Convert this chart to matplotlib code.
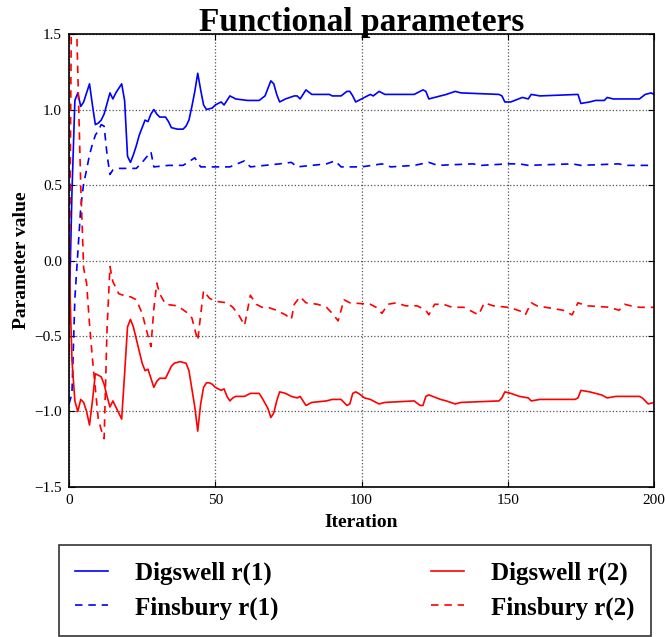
import matplotlib
matplotlib.use("Agg")
import matplotlib.pyplot as plt

# Polices : serif type Times
plt.rcParams['font.family'] = 'serif'
plt.rcParams['font.serif'] = ['Liberation Serif', 'DejaVu Serif']

# Données : (itération, valeur)
digswell_r1 = [
    (0, -0.40), (1, 0.45), (2, 1.06), (3, 1.11), (4, 1.02), (5, 1.05), (6, 1.11), (7, 1.17),
    (8, 1.03), (9, 0.90), (10, 0.91), (11, 0.93), (12, 0.97), (13, 1.04), (14, 1.11), (15, 1.07),
    (16, 1.11), (17, 1.14), (18, 1.17), (19, 1.06), (20, 0.69), (21, 0.65), (22, 0.70), (23, 0.76),
    (24, 0.83), (25, 0.88), (26, 0.93), (27, 0.92), (28, 0.97), (29, 1.00), (30, 0.97), (31, 0.95),
    (33, 0.95), (34, 0.92), (35, 0.88), (37, 0.87), (39, 0.87), (40, 0.89), (41, 0.93), (42, 1.02),
    (43, 1.12), (44, 1.24), (45, 1.13), (46, 1.03), (47, 1.00), (49, 1.01), (50, 1.03), (51, 1.04),
    (52, 1.05), (53, 1.03), (54, 1.06), (55, 1.09), (57, 1.07), (61, 1.06), (65, 1.06), (67, 1.09),
    (68, 1.14), (69, 1.19), (70, 1.17), (71, 1.10), (72, 1.05), (74, 1.07), (77, 1.09), (78, 1.09),
    (79, 1.07), (81, 1.13), (83, 1.10), (89, 1.10), (90, 1.09), (93, 1.09), (95, 1.12), (96, 1.12),
    (97, 1.09), (98, 1.05), (100, 1.07), (102, 1.09), (103, 1.10), (104, 1.09), (106, 1.12),
    (108, 1.10), (118, 1.10), (119, 1.11), (121, 1.13), (122, 1.12), (123, 1.07), (127, 1.09),
    (129, 1.10), (132, 1.12), (134, 1.11), (147, 1.10), (148, 1.09), (149, 1.05), (151, 1.05),
    (155, 1.08), (157, 1.07), (158, 1.10), (161, 1.09), (174, 1.10), (175, 1.04), (178, 1.05),
    (180, 1.06), (183, 1.06), (184, 1.08), (186, 1.07), (195, 1.07), (197, 1.10), (199, 1.11),
    (200, 1.10),
]

finsbury_r1 = [
    (0, -0.95), (1, -0.88), (2, -0.25), (3, 0.05), (4, 0.35), (5, 0.51), (6, 0.60), (7, 0.70),
    (8, 0.77), (9, 0.83), (10, 0.86), (11, 0.90), (12, 0.89), (13, 0.70), (14, 0.57), (15, 0.60),
    (17, 0.61), (20, 0.61), (23, 0.61), (25, 0.65), (28, 0.72), (29, 0.62), (34, 0.63), (39, 0.63),
    (43, 0.68), (45, 0.62), (55, 0.62), (60, 0.66), (62, 0.62), (72, 0.64), (76, 0.65), (78, 0.62),
    (88, 0.64), (91, 0.66), (93, 0.62), (100, 0.62), (107, 0.64), (110, 0.62), (118, 0.63),
    (123, 0.65), (126, 0.63), (138, 0.64), (141, 0.63), (150, 0.64), (154, 0.64), (157, 0.63),
    (172, 0.64), (175, 0.63), (188, 0.64), (190, 0.63), (200, 0.63),
]

digswell_r2 = [
    (0, 0.00), (1, -0.66), (2, -0.93), (3, -1.00), (4, -0.92), (5, -0.94), (6, -1.00), (7, -1.09),
    (8, -0.93), (9, -0.75), (10, -0.76), (11, -0.77), (12, -0.82), (13, -0.90), (14, -0.97),
    (15, -0.93), (16, -0.97), (17, -1.01), (18, -1.05), (19, -0.75), (20, -0.44), (21, -0.39),
    (22, -0.44), (23, -0.52), (24, -0.60), (25, -0.68), (26, -0.73), (27, -0.72), (28, -0.78),
    (29, -0.84), (30, -0.80), (31, -0.78), (33, -0.78), (34, -0.74), (35, -0.70), (36, -0.68),
    (38, -0.67), (40, -0.68), (41, -0.73), (42, -0.85), (43, -0.97), (44, -1.13), (45, -0.95),
    (46, -0.84), (47, -0.81), (48, -0.81), (49, -0.82), (50, -0.84), (51, -0.85), (52, -0.86),
    (53, -0.85), (54, -0.90), (55, -0.93), (56, -0.91), (57, -0.90), (60, -0.90), (62, -0.88),
    (65, -0.88), (66, -0.91), (68, -0.98), (69, -1.04), (70, -1.01), (71, -0.93), (72, -0.87),
    (74, -0.88), (76, -0.90), (78, -0.91), (79, -0.90), (81, -0.96), (83, -0.94), (88, -0.93),
    (90, -0.92), (93, -0.92), (95, -0.96), (96, -0.95), (97, -0.88), (98, -0.87), (99, -0.88),
    (101, -0.91), (103, -0.92), (106, -0.95), (108, -0.94), (118, -0.93), (120, -0.96),
    (121, -0.96), (122, -0.90), (123, -0.89), (127, -0.92), (129, -0.93), (132, -0.95),
    (134, -0.94), (147, -0.93), (148, -0.91), (149, -0.87), (151, -0.88), (154, -0.90),
    (157, -0.91), (158, -0.93), (161, -0.92), (173, -0.92), (174, -0.91), (175, -0.86),
    (178, -0.87), (180, -0.88), (182, -0.89), (184, -0.91), (187, -0.90), (195, -0.90),
    (196, -0.91), (198, -0.95), (200, -0.94),
]

finsbury_r2 = [
    (0, -0.60), (1, 2.20), (2, 2.00), (3, 1.25), (4, 0.50), (5, -0.05), (6, -0.15), (7, -0.42),
    (8, -0.65), (9, -0.85), (10, -1.05), (11, -1.12), (12, -1.18), (13, -0.45), (14, -0.04),
    (15, -0.14), (17, -0.22), (20, -0.24), (21, -0.24), (23, -0.26), (25, -0.35), (27, -0.50),
    (28, -0.57), (29, -0.32), (30, -0.15), (31, -0.22), (33, -0.29), (37, -0.30), (40, -0.34),
    (42, -0.38), (44, -0.53), (45, -0.36), (46, -0.20), (48, -0.25), (50, -0.27), (54, -0.28),
    (56, -0.31), (58, -0.36), (60, -0.43), (62, -0.23), (64, -0.29), (66, -0.31), (68, -0.31),
    (71, -0.33), (74, -0.36), (76, -0.39), (77, -0.29), (79, -0.24), (81, -0.28), (85, -0.29),
    (88, -0.31), (90, -0.35), (92, -0.40), (94, -0.26), (96, -0.28), (103, -0.29), (105, -0.31),
    (107, -0.35), (109, -0.29), (112, -0.28), (115, -0.30), (119, -0.30), (122, -0.33),
    (123, -0.36), (125, -0.29), (128, -0.29), (131, -0.31), (135, -0.31), (138, -0.34),
    (140, -0.36), (142, -0.28), (145, -0.30), (150, -0.31), (152, -0.32), (155, -0.34),
    (156, -0.36), (158, -0.28), (160, -0.30), (163, -0.31), (169, -0.33), (172, -0.36),
    (174, -0.28), (177, -0.30), (185, -0.31), (188, -0.33), (190, -0.29), (192, -0.30),
    (195, -0.31), (200, -0.31),
]

fig = plt.figure(figsize=(6.65, 6.37), dpi=100)
ax = fig.add_axes([0.1038, 0.2355, 0.8797, 0.7111])

dash = (4.5, 3.5)
x, y = zip(*digswell_r1)
ax.plot(x, y, color='b', lw=1.2, label='Digswell r(1)')
x, y = zip(*finsbury_r1)
ax.plot(x, y, color='b', lw=1.2, ls='--', dashes=dash, label='Finsbury r(1)')
x, y = zip(*digswell_r2)
ax.plot(x, y, color='r', lw=1.2, label='Digswell r(2)')
x, y = zip(*finsbury_r2)
ax.plot(x, y, color='r', lw=1.2, ls='--', dashes=dash, label='Finsbury r(2)')

ax.set_xlim(0, 200)
ax.set_ylim(-1.5, 1.5)
ax.set_xticks([0, 50, 100, 150, 200])
ax.set_yticks([-1.5, -1.0, -0.5, 0.0, 0.5, 1.0, 1.5])
ax.grid(True, color='#555555', linestyle=':', linewidth=0.9)
ax.tick_params(direction='in', top=True, right=True, length=4, labelsize=11, pad=5)
for s in ax.spines.values():
    s.set_linewidth(1.2)

ax.set_title('Functional parameters', fontsize=24, fontweight='bold', pad=2)
ax.set_xlabel('Iteration', fontsize=14, fontweight='bold', labelpad=5)
ax.set_ylabel('Parameter value', fontsize=14, fontweight='bold', labelpad=3)

# Légende sous le graphique, 2 colonnes
leg = fig.legend(loc='center', bbox_to_anchor=(0.534, 0.073), ncol=2,
                 prop={'weight': 'bold', 'size': 18}, frameon=True, fancybox=False,
                 handlelength=1.3, handletextpad=1.1, columnspacing=6.1,
                 labelspacing=0.45, borderpad=0.65)
leg.get_frame().set_edgecolor('black')
leg.get_frame().set_linewidth(1.2)

plt.savefig('out.png', dpi=100)
